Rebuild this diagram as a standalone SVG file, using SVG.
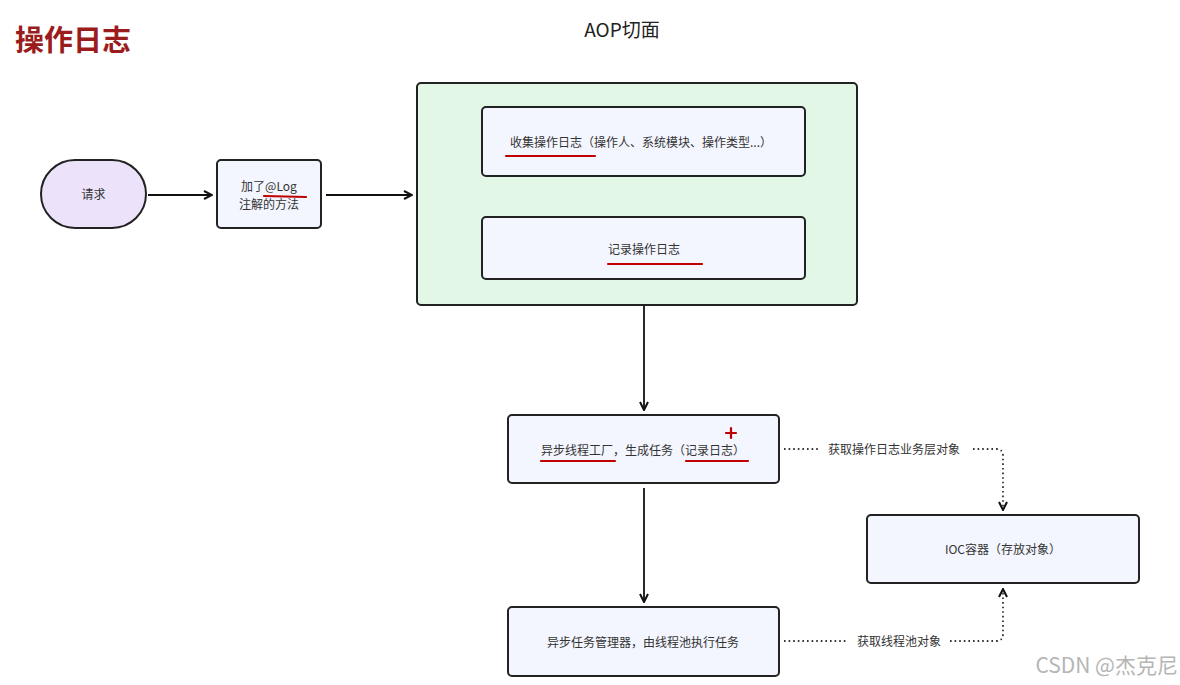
<svg xmlns="http://www.w3.org/2000/svg" width="1180" height="685" viewBox="0 0 1180 685">
<style>
.t{font-family:"Noto Sans CJK SC","Noto Sans",sans-serif;font-size:12px;fill:#333;}
.box{fill:#f3f6fe;stroke:#222;stroke-width:2;}
.ln{stroke:#111;stroke-width:1.8;fill:none;}
.dot{stroke:#333;stroke-width:1.8;fill:none;stroke-dasharray:1.6 3;}
.red{stroke:#c00000;stroke-width:2.2;fill:none;stroke-linecap:round;}
</style>
<defs>
<marker id="ah" viewBox="0 0 10 10" refX="9" refY="5" markerWidth="10" markerHeight="10" markerUnits="userSpaceOnUse" orient="auto">
<path d="M1,1 L9,5 L1,9" fill="none" stroke="#111" stroke-width="2"/>
</marker>
</defs>
<rect width="1180" height="685" fill="#ffffff"/>
<text x="15" y="51" style="font-family:'Noto Sans CJK SC',sans-serif;font-size:29px;font-weight:bold;fill:#9b1c1c">操作日志</text>
<text x="622" y="37" text-anchor="middle" style="font-family:'Noto Sans CJK SC',sans-serif;font-size:19px;fill:#222">AOP切面</text>

<g id="connectors">
<line class="ln" x1="148" y1="195" x2="212" y2="195" marker-end="url(#ah)"/>
<line class="ln" x1="326" y1="195" x2="412" y2="195" marker-end="url(#ah)"/>
<line class="ln" x1="644" y1="283" x2="644" y2="410" marker-end="url(#ah)"/>
<line class="ln" x1="644" y1="488" x2="644" y2="602" marker-end="url(#ah)"/>
<path class="dot" d="M784,449 L820,449"/>
<path class="dot" d="M973,449 L996,449 Q1003,449 1003,456 L1003,510" marker-end="url(#ah)"/>
<path class="dot" d="M784,641 L848,641"/>
<path class="dot" d="M950,641 L996,641 Q1003,641 1003,634 L1003,589" marker-end="url(#ah)"/>
<text class="t" x="828" y="454">获取操作日志业务层对象</text>
<text class="t" x="857" y="646">获取线程池对象</text>
</g>

<g id="request">
<rect x="41" y="160" width="105" height="68" rx="34" ry="34" fill="#ece3fb" stroke="#222" stroke-width="2"/>
<text class="t" x="93.5" y="199" text-anchor="middle">请求</text>
</g>

<g id="method">
<rect class="box" x="217" y="160" width="104" height="68" rx="4"/>
<text class="t" x="269" y="191" text-anchor="middle">加了@Log</text>
<text class="t" x="269" y="209" text-anchor="middle">注解的方法</text>
<line class="red" x1="264" y1="196" x2="306" y2="197"/>
</g>

<g id="aop">
<rect x="417" y="83" width="440" height="222" rx="4" fill="#e2f7e6" stroke="#222" stroke-width="2"/>
</g>

<g id="collect">
<rect class="box" x="482" y="107" width="323" height="69" rx="4"/>
<text class="t" x="510" y="147">收集操作日志（操作人、系统模块、操作类型...）</text>
<line class="red" x1="506" y1="156" x2="595" y2="156"/>
</g>

<g id="record">
<rect class="box" x="482" y="217" width="323" height="62" rx="4"/>
<text class="t" x="644" y="254" text-anchor="middle">记录操作日志</text>
<line class="red" x1="608" y1="264" x2="702" y2="264"/>
</g>

<g id="factory">
<rect class="box" x="508" y="415" width="271" height="68" rx="4"/>
<text class="t" x="643" y="455" text-anchor="middle">异步线程工厂，生成任务（记录日志）</text>
<line class="red" x1="541" y1="461" x2="615" y2="461"/>
<line class="red" x1="686" y1="461" x2="748" y2="461"/>
<path class="red" d="M731,428 L731,438 M726,433 L736,433" stroke-width="1.8"/>
</g>

<g id="manager">
<rect class="box" x="508" y="607" width="271" height="69" rx="4"/>
<text class="t" x="643" y="647" text-anchor="middle">异步任务管理器，由线程池执行任务</text>
</g>

<g id="ioc">
<rect class="box" x="867" y="515" width="272" height="68" rx="4"/>
<text class="t" x="1003" y="554" text-anchor="middle">IOC容器（存放对象）</text>
</g>

<text x="1178" y="673" text-anchor="end" style="font-family:'Noto Sans CJK SC',sans-serif;font-size:21px;fill:#b5b5b5">CSDN @杰克尼</text>
</svg>
